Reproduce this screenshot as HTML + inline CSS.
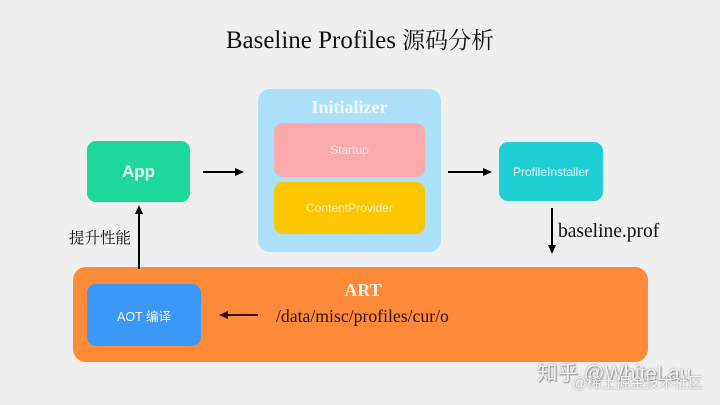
<!DOCTYPE html>
<html><head><meta charset="utf-8">
<style>
html,body{margin:0;padding:0}
body{width:720px;height:405px;background:#efefef;position:relative;overflow:hidden;font-family:"Liberation Sans","Noto Sans CJK SC",sans-serif}
.a{position:absolute;box-sizing:border-box}
.box{display:flex;align-items:center;justify-content:center;color:#fff}
.serif{font-family:"Liberation Serif","Noto Serif CJK SC",serif}
</style></head><body>
<div class="a serif" style="left:0;top:24px;width:720px;text-align:center;font-size:25px;color:#111;line-height:30px;white-space:nowrap">Baseline Profiles <span style="font-family:'Noto Serif CJK SC',serif;font-size:23px">源码分析</span></div>

<!-- Initializer -->
<div class="a" style="left:258px;top:89px;width:183px;height:163px;background:#ade0f9;border-radius:12px"></div>
<div class="a serif" style="left:258px;top:97px;width:183px;text-align:center;color:#eef8ff;font-weight:bold;font-size:18px;line-height:21px">Initializer</div>
<div class="a box" style="left:274px;top:123px;width:151px;height:54px;background:#fdaaaa;border-radius:9px;font-size:12px;color:#fde7e7">Startup</div>
<div class="a box" style="left:274px;top:182px;width:151px;height:52px;background:#fdc600;border-radius:9px;font-size:12px;color:#fff4c8">ContentProvider</div>

<!-- App -->
<div class="a box" style="left:87px;top:141px;width:103px;height:61px;background:#1ed89b;border-radius:9px;font-size:17px;font-weight:bold;color:#e9fff6">App</div>

<!-- ProfileInstaller -->
<div class="a box" style="left:499px;top:142px;width:104px;height:59px;background:#1ecfd4;border-radius:9px;font-size:12px;color:#e6fbfc">ProfileInstaller</div>

<!-- ART -->
<div class="a" style="left:73px;top:267px;width:575px;height:95px;background:#fe8a3a;border-radius:13px"></div>
<div class="a serif" style="left:290px;top:279px;width:146px;text-align:center;color:#fff3e8;font-weight:bold;font-size:18px;line-height:22px">ART</div>
<div class="a box" style="left:87px;top:284px;width:114px;height:62px;background:#3c98f6;border-radius:9px;font-size:12.5px;color:#eef6ff">AOT 编译</div>
<div class="a serif" style="left:276px;top:305px;font-size:17.7px;color:#2a1208;line-height:22px;white-space:nowrap">/data/misc/profiles/cur/o</div>

<!-- labels -->
<div class="a" style="left:69px;top:228px;font-size:15.5px;color:#111;font-family:'Noto Serif CJK SC','Noto Sans CJK SC',serif;line-height:18px;white-space:nowrap">提升性能</div>
<div class="a serif" style="left:558px;top:221px;font-size:19.5px;color:#111;line-height:22px;white-space:nowrap">baseline.prof</div>

<svg class="a" style="left:0;top:0" width="720" height="405">
<g stroke="#000" stroke-width="2" fill="#000">
<line x1="203" y1="172" x2="236" y2="172"/><polygon points="244,172 235,168 235,176" stroke="none"/>
<line x1="448" y1="172" x2="484" y2="172"/><polygon points="492,172 483,168 483,176" stroke="none"/>
<line x1="552" y1="208" x2="552" y2="246"/><polygon points="552,254 548,245 556,245" stroke="none"/>
<line x1="139" y1="269" x2="139" y2="213"/><polygon points="139,205 135,214 143,214" stroke="none"/>
</g>
<g stroke="#3a0808" stroke-width="2" fill="#3a0808">
<line x1="258" y1="315" x2="227" y2="315"/><polygon points="219,315 228,311 228,319" stroke="none"/>
</g>
</svg>

<!-- watermark -->
<div class="a" style="left:537px;top:363px;font-size:20.5px;color:#f4f4f4;text-shadow:0 0 2px #888,1px 1px 1px #999;line-height:22px;white-space:nowrap">知乎 @WhiteLau</div>
<div class="a" style="left:572px;top:377px;font-size:14.5px;color:#f4f4f4;text-shadow:0 0 2px #888;line-height:15px;white-space:nowrap">@稀土掘金技术社区</div>
</body></html>
